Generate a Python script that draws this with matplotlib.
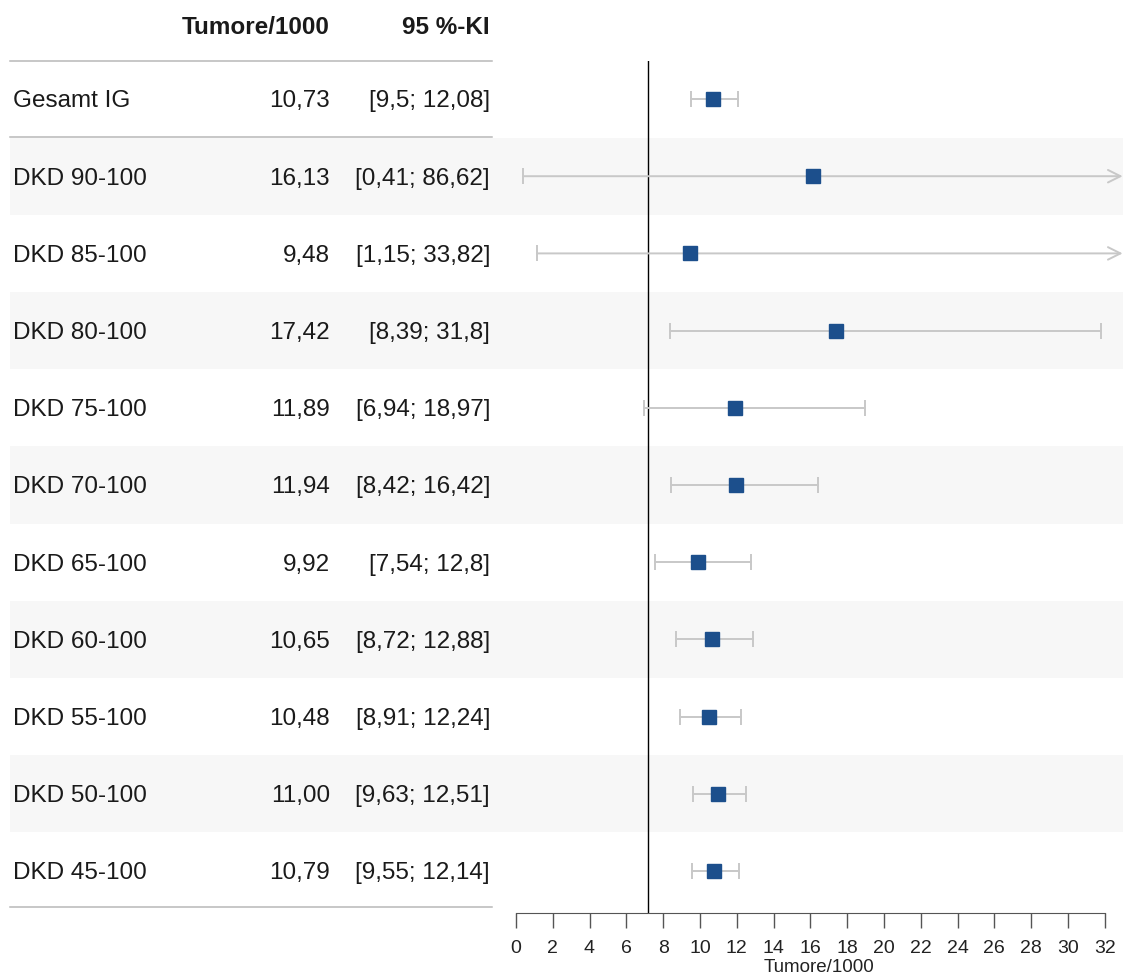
import matplotlib.pyplot as plt
import numpy as np

# Rate of tumours per 1000 with 95 % confidence interval
labels = ['Gesamt IG', 'DKD 90-100', 'DKD 85-100', 'DKD 80-100', 'DKD 75-100',
          'DKD 70-100', 'DKD 65-100', 'DKD 60-100', 'DKD 55-100', 'DKD 50-100',
          'DKD 45-100']
estimate = [10.73, 16.13, 9.48, 17.42, 11.89, 11.94, 9.92, 10.65, 10.48, 11.00, 10.79]
ci_low = [9.5, 0.41, 1.15, 8.39, 6.94, 8.42, 7.54, 8.72, 8.91, 9.63, 9.55]
ci_high = [12.08, 86.62, 33.82, 31.8, 18.97, 16.42, 12.8, 12.88, 12.24, 12.51, 12.14]
reference = 7.17
ticks = np.arange(0, 33, 2)

W, H = 1123, 979
plt.rcParams['font.family'] = ['Liberation Sans', 'DejaVu Sans']
fig = plt.figure(figsize=(W / 100, H / 100), dpi=100)

# row layout: centre of row i sits at 100 + 77.2*i pixels from the top
y0, dy = 100, 77.2
def row(pix):
    return (pix - y0) / dy

n = len(labels)
rows = np.arange(n)

# background axes in pixel x / row y for table text, rules and bands
bg = fig.add_axes([0, 0, 1, 1])
bg.set_xlim(0, W)
bg.set_ylim(row(H), row(0))
bg.axis('off')

for i in rows[1::2]:
    bg.barh(i, W - 10, left=10, height=1.0, color='#f7f7f7', zorder=0)

txt = '#1a1a1a'
fs = 17.5
bg.text(330, row(28), 'Tumore/1000', ha='right', va='center', fontsize=fs,
        fontweight='bold', color=txt)
bg.text(490, row(28), '95 %-KI', ha='right', va='center', fontsize=fs,
        fontweight='bold', color=txt)

def fmt(v):
    return ('%g' % v).replace('.', ',')

for i in rows:
    yt = i + row(101.5)
    bg.text(13, yt, labels[i], ha='left', va='center', fontsize=fs, color=txt)
    bg.text(330, yt, f'{estimate[i]:.2f}'.replace('.', ','), ha='right',
            va='center', fontsize=fs, color=txt)
    bg.text(490, yt, f'[{fmt(ci_low[i])}; {fmt(ci_high[i])}]', ha='right',
            va='center', fontsize=fs, color=txt)

for yp in (62, 138, 908):
    bg.plot([10, 492], [row(yp), row(yp)], color='#b8b8b8', lw=1.1)

# forest plot axes
x0_pix, scale = 515.9, 18.4
top_pix, bot_pix = 62, 914
xmax = (W - x0_pix) / scale
ax = fig.add_axes([x0_pix / W, (H - bot_pix) / H, (W - x0_pix) / W,
                   (bot_pix - top_pix) / H])
ax.patch.set_alpha(0)
ax.set_xlim(0, xmax)
ax.set_ylim(row(bot_pix), row(top_pix))
for s in ('top', 'right', 'left'):
    ax.spines[s].set_visible(False)
ax.spines['bottom'].set_bounds(0, 32)
ax.spines['bottom'].set_color('#555555')
ax.set_yticks([])
ax.set_xticks(ticks)
ax.tick_params(axis='x', length=11, width=1, color='#555555', pad=8,
               labelsize=14, labelcolor='#222222')
ax.set_xlabel('Tumore/1000', fontsize=13.5, color='#222222', labelpad=1)

ax.axvline(reference, color='black', lw=1, zorder=1)

ci_col = '#c8c8c8'
for i in rows:
    lo, hi = ci_low[i], ci_high[i]
    if hi > xmax:
        ax.annotate('', xy=(xmax - 0.02, i), xytext=(lo, i),
                    arrowprops=dict(arrowstyle='->,head_length=0.9,head_width=0.45',
                                    color=ci_col, lw=1.4, shrinkA=0, shrinkB=0),
                    zorder=2)
        ax.plot([lo], [i], marker='|', ms=12, mew=1.4, color=ci_col, zorder=2)
    else:
        ax.plot([lo, hi], [i, i], color=ci_col, lw=1.4, zorder=2)
        ax.plot([lo, hi], [i, i], ls='none', marker='|', ms=12, mew=1.4,
                color=ci_col, zorder=2)
    ax.plot(estimate[i], i, marker='s', ms=10, color='#1c4f8c', zorder=3)

fig.savefig('out.png', dpi=100)
